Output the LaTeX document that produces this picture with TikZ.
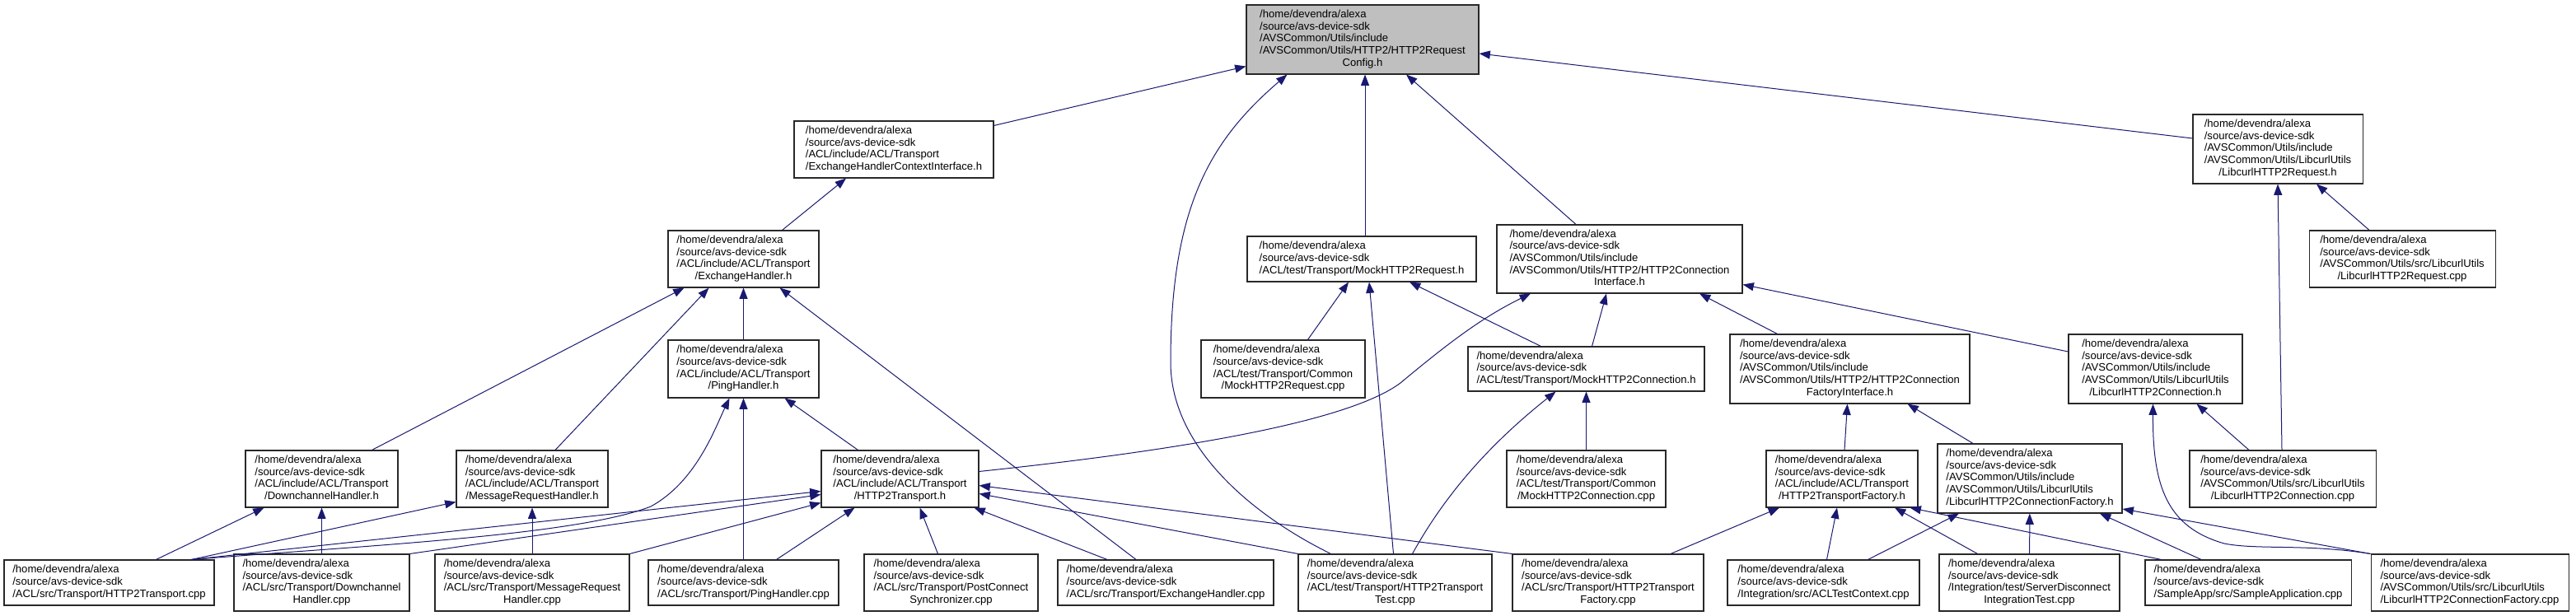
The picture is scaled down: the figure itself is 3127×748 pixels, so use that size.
\documentclass[tikz,border=0pt]{standalone}
\usepackage{fontspec}
\setmainfont{Liberation Sans}
\usetikzlibrary{arrows.meta,calc}
\definecolor{edgeblue}{RGB}{25,25,112}
\definecolor{rootgray}{RGB}{191,191,191}
\definecolor{boxline}{RGB}{40,40,40}
% file label: left aligned lines, last line centred
\newcommand{\flines}[2]{\begin{tabular}{@{}l@{}}#1\\\multicolumn{1}{@{}c@{}}{#2}\end{tabular}}

\begin{document}
\begin{tikzpicture}[x=0.75pt, y=-0.75pt,
      fb/.style={rectangle, draw=boxline, line width=0.8pt, fill=white, inner sep=0pt,
                 font=\fontsize{9.8}{11}\selectfont},
      sz/.style 2 args={minimum width=#1*0.75pt, minimum height=#2*0.75pt},
      dep/.style={-{Triangle[length=10pt,width=7.5pt]}, draw=edgeblue, line width=0.75pt}]
    \useasboundingbox (0,0) rectangle (3127,748);

    % top rows
    \node[fb, sz={282}{84}, fill=rootgray] (root) at (1654,48)
      {\flines{/home/devendra/alexa\\/source/avs-device-sdk\\/AVSCommon/Utils/include\\/AVSCommon/Utils/HTTP2/HTTP2Request}{Config.h}};
    \node[fb, sz={242}{69}] (eci) at (1085,181.5)
      {\flines{/home/devendra/alexa\\/source/avs-device-sdk\\/ACL/include/ACL/Transport}{/ExchangeHandlerContextInterface.h}};
    \node[fb, sz={206}{84}] (lreq) at (2765,181)
      {\flines{/home/devendra/alexa\\/source/avs-device-sdk\\/AVSCommon/Utils/include\\/AVSCommon/Utils/LibcurlUtils}{/LibcurlHTTP2Request.h}};
    \node[fb, sz={183}{69}] (exh) at (902.5,314.5)
      {\flines{/home/devendra/alexa\\/source/avs-device-sdk\\/ACL/include/ACL/Transport}{/ExchangeHandler.h}};
    \node[fb, sz={278}{55}] (mreq) at (1653,314.5)
      {\flines{/home/devendra/alexa\\/source/avs-device-sdk}{/ACL/test/Transport/MockHTTP2Request.h}};
    \node[fb, sz={298}{83}] (hci) at (1966,314.5)
      {\flines{/home/devendra/alexa\\/source/avs-device-sdk\\/AVSCommon/Utils/include\\/AVSCommon/Utils/HTTP2/HTTP2Connection}{Interface.h}};
    \node[fb, sz={226}{69}] (lreqcpp) at (2916,314.5)
      {\flines{/home/devendra/alexa\\/source/avs-device-sdk\\/AVSCommon/Utils/src/LibcurlUtils}{/LibcurlHTTP2Request.cpp}};

    % middle rows
    \node[fb, sz={183}{70}] (ping) at (902.5,448)
      {\flines{/home/devendra/alexa\\/source/avs-device-sdk\\/ACL/include/ACL/Transport}{/PingHandler.h}};
    \node[fb, sz={199}{70}] (mreqcpp) at (1557.5,448)
      {\flines{/home/devendra/alexa\\/source/avs-device-sdk\\/ACL/test/Transport/Common}{/MockHTTP2Request.cpp}};
    \node[fb, sz={287}{54}] (mconn) at (1925.5,448)
      {\flines{/home/devendra/alexa\\/source/avs-device-sdk}{/ACL/test/Transport/MockHTTP2Connection.h}};
    \node[fb, sz={291}{84}] (hcfi) at (2245.5,448)
      {\flines{/home/devendra/alexa\\/source/avs-device-sdk\\/AVSCommon/Utils/include\\/AVSCommon/Utils/HTTP2/HTTP2Connection}{FactoryInterface.h}};
    \node[fb, sz={211}{84}] (lconn) at (2616.5,448)
      {\flines{/home/devendra/alexa\\/source/avs-device-sdk\\/AVSCommon/Utils/include\\/AVSCommon/Utils/LibcurlUtils}{/LibcurlHTTP2Connection.h}};
    \node[fb, sz={185}{69}] (dch) at (390.5,581.5)
      {\flines{/home/devendra/alexa\\/source/avs-device-sdk\\/ACL/include/ACL/Transport}{/DownchannelHandler.h}};
    \node[fb, sz={184}{69}] (mrh) at (646,581.5)
      {\flines{/home/devendra/alexa\\/source/avs-device-sdk\\/ACL/include/ACL/Transport}{/MessageRequestHandler.h}};
    \node[fb, sz={191}{69}] (h2t) at (1092.5,581.5)
      {\flines{/home/devendra/alexa\\/source/avs-device-sdk\\/ACL/include/ACL/Transport}{/HTTP2Transport.h}};
    \node[fb, sz={193}{69}] (mconncpp) at (1925.5,581.5)
      {\flines{/home/devendra/alexa\\/source/avs-device-sdk\\/ACL/test/Transport/Common}{/MockHTTP2Connection.cpp}};
    \node[fb, sz={184}{69}] (h2tf) at (2236,581.5)
      {\flines{/home/devendra/alexa\\/source/avs-device-sdk\\/ACL/include/ACL/Transport}{/HTTP2TransportFactory.h}};
    \node[fb, sz={224}{84}] (lcf) at (2464,581)
      {\flines{/home/devendra/alexa\\/source/avs-device-sdk\\/AVSCommon/Utils/include\\/AVSCommon/Utils/LibcurlUtils}{/LibcurlHTTP2ConnectionFactory.h}};
    \node[fb, sz={226}{69}] (lconncpp) at (2771,581.5)
      {\flines{/home/devendra/alexa\\/source/avs-device-sdk\\/AVSCommon/Utils/src/LibcurlUtils}{/LibcurlHTTP2Connection.cpp}};

    % bottom row
    \node[fb, sz={255}{55}] (h2tcpp) at (132.5,707.5)
      {\flines{/home/devendra/alexa\\/source/avs-device-sdk}{/ACL/src/Transport/HTTP2Transport.cpp}};
    \node[fb, sz={213}{69}] (dchcpp) at (390.5,707.5)
      {\flines{/home/devendra/alexa\\/source/avs-device-sdk\\/ACL/src/Transport/Downchannel}{Handler.cpp}};
    \node[fb, sz={236}{69}] (mrhcpp) at (646,707.5)
      {\flines{/home/devendra/alexa\\/source/avs-device-sdk\\/ACL/src/Transport/MessageRequest}{Handler.cpp}};
    \node[fb, sz={231}{55}] (pingcpp) at (902.5,707.5)
      {\flines{/home/devendra/alexa\\/source/avs-device-sdk}{/ACL/src/Transport/PingHandler.cpp}};
    \node[fb, sz={211}{69}] (pcs) at (1154.5,707.5)
      {\flines{/home/devendra/alexa\\/source/avs-device-sdk\\/ACL/src/Transport/PostConnect}{Synchronizer.cpp}};
    \node[fb, sz={262}{55}] (exhcpp) at (1415,707.5)
      {\flines{/home/devendra/alexa\\/source/avs-device-sdk}{/ACL/src/Transport/ExchangeHandler.cpp}};
    \node[fb, sz={235}{69}] (h2ttest) at (1693.5,707.5)
      {\flines{/home/devendra/alexa\\/source/avs-device-sdk\\/ACL/test/Transport/HTTP2Transport}{Test.cpp}};
    \node[fb, sz={232}{69}] (h2tfcpp) at (1952,707.5)
      {\flines{/home/devendra/alexa\\/source/avs-device-sdk\\/ACL/src/Transport/HTTP2Transport}{Factory.cpp}};
    \node[fb, sz={233}{55}] (acltc) at (2213.5,707.5)
      {\flines{/home/devendra/alexa\\/source/avs-device-sdk}{/Integration/src/ACLTestContext.cpp}};
    \node[fb, sz={219}{69}] (sdit) at (2463.5,707.5)
      {\flines{/home/devendra/alexa\\/source/avs-device-sdk\\/Integration/test/ServerDisconnect}{IntegrationTest.cpp}};
    \node[fb, sz={250}{55}] (sapp) at (2729,707.5)
      {\flines{/home/devendra/alexa\\/source/avs-device-sdk}{/SampleApp/src/SampleApplication.cpp}};
    \node[fb, sz={240}{69}] (lcfcpp) at (2998,707.5)
      {\flines{/home/devendra/alexa\\/source/avs-device-sdk\\/AVSCommon/Utils/src/LibcurlUtils}{/LibcurlHTTP2ConnectionFactory.cpp}};

    % includes of the config header
    \draw[dep] ($(eci.north east)+(0,6)$) -- ($(root.south west)+(0,-10)$);
    \draw[dep] ($(mreq.north)+(4,0)$) -- ($(root.south)+(3,0)$);
    \draw[dep] ($(hci.north)+(-53,0)$) -- ($(root.south)+(53,0)$);
    \draw[dep] ($(lreq.west)+(0,-13)$) -- ($(root.east)+(0,17)$);
    \draw[dep] ($(h2ttest.north)+(-78,0)$) .. controls (1515,623) and (1421,540) .. (1421,440)
               .. controls (1421,250) and (1470,170) .. ($(root.south west)+(50,0)$);

    % ACL transport headers
    \draw[dep] ($(exh.north)+(47,0)$) -- ($(eci.south)+(-58,0)$);
    \draw[dep] ($(dch.north)+(61,0)$) -- ($(exh.south)+(-72,0)$);
    \draw[dep] ($(mrh.north)+(28,0)$) -- ($(exh.south)+(-42,0)$);
    \draw[dep] (ping) -- (exh);
    \draw[dep] ($(exhcpp.north)+(-36,0)$) -- ($(exh.south)+(44,0)$);
    \draw[dep] ($(h2tcpp.north)+(57,0)$) -- ($(dch.south)+(-70,0)$);
    \draw[dep] (dchcpp) -- (dch);
    \draw[dep] ($(h2tcpp.north)+(100,0)$) -- ($(mrh.west)+(0,28)$);
    \draw[dep] (mrhcpp) -- (mrh);
    \draw[dep] ($(h2tcpp.north)+(100,0)$) .. controls (450,662) and (700,650) .. (790,615)
               .. controls (845,585) and (868,520) .. ($(ping.south)+(-17,0)$);
    \draw[dep] (pingcpp) -- (ping);
    \draw[dep] ($(h2t.north)+(-51,0)$) -- ($(ping.south)+(50,0)$);

    % HTTP2Transport.h
    \draw[dep] ($(h2tcpp.north)+(100,0)$) -- ($(h2t.west)+(0,15)$);
    \draw[dep] (dchcpp.north east) -- ($(h2t.west)+(0,19)$);
    \draw[dep] (mrhcpp.north east) -- ($(h2t.west)+(0,29)$);
    \draw[dep] ($(pingcpp.north)+(40,0)$) -- ($(h2t.south)+(-55,0)$);
    \draw[dep] ($(pcs.north)+(-16,0)$) -- ($(h2t.south)+(24,0)$);
    \draw[dep] ($(exhcpp.north)+(-71,0)$) -- ($(h2t.south)+(90,0)$);
    \draw[dep] (h2tfcpp.north west) -- ($(h2t.east)+(0,8)$);
    \draw[dep] (h2ttest.north west) -- ($(h2t.east)+(0,18)$);

    % connection interface
    \draw[dep] ($(h2t.east)+(0,-9)$) .. controls (1450,545) and (1640,510) .. (1700,465)
               .. controls (1760,415) and (1800,385) .. ($(hci.south)+(-108,0)$);
    \draw[dep] ($(mconn.north)+(7,0)$) -- ($(hci.south)+(-16,0)$);
    \draw[dep] ($(hcfi.north)+(-88,0)$) -- ($(hci.south)+(97,0)$);
    \draw[dep] ($(lconn.west)+(0,-21)$) -- ($(hci.east)+(0,31)$);

    % mocks
    \draw[dep] ($(mreqcpp.north)+(30,0)$) -- ($(mreq.south)+(-16,0)$);
    \draw[dep] ($(h2ttest.north)+(-2,0)$) -- ($(mreq.south)+(9,0)$);
    \draw[dep] ($(mconn.north)+(-55,0)$) -- ($(mreq.south)+(58,0)$);
    \draw[dep] ($(h2ttest.north)+(21,0)$) .. controls (1760,590) and (1820,530) .. ($(mconn.south)+(-37,0)$);
    \draw[dep] (mconncpp) -- (mconn);

    % factories and libcurl
    \draw[dep] ($(h2tf.north)+(3,0)$) -- ($(hcfi.south)+(-3,0)$);
    \draw[dep] ($(lcf.north)+(-69,0)$) -- ($(hcfi.south)+(70,0)$);
    \draw[dep] ($(lconncpp.north)+(-41,0)$) -- ($(lconn.south)+(50,0)$);
    \draw[dep] ($(lconncpp.north)+(-1,0)$) -- (lreq.south);
    \draw[dep] ($(lreqcpp.north)+(-40,0)$) -- ($(lreq.south)+(47,0)$);
    \draw[dep] (lcfcpp.north west) .. controls (2800,660) and (2740,668) .. (2700,660)
               .. controls (2630,640) and (2613,590) .. ($(lconn.south)+(-3,0)$);
    \draw[dep] (lcfcpp.north west) -- ($(lcf.east)+(0,37)$);
    \draw[dep] ($(acltc.north)+(4,0)$) -- ($(h2tf.south)+(-6,0)$);
    \draw[dep] ($(acltc.north)+(54,0)$) -- ($(lcf.south)+(-86,0)$);
    \draw[dep] ($(h2tfcpp.north)+(76,0)$) -- ($(h2tf.south)+(-76,0)$);
    \draw[dep] ($(sdit.north)+(-63,0)$) -- ($(h2tf.south)+(64,0)$);
    \draw[dep] (sdit) -- (lcf);
    \draw[dep] ($(sapp.north west)+(20,0)$) -- ($(h2tf.south east)+(-10,0)$);
    \draw[dep] ($(sapp.north)+(-57,0)$) -- ($(lcf.south)+(85,0)$);
  \end{tikzpicture}
\end{document}
